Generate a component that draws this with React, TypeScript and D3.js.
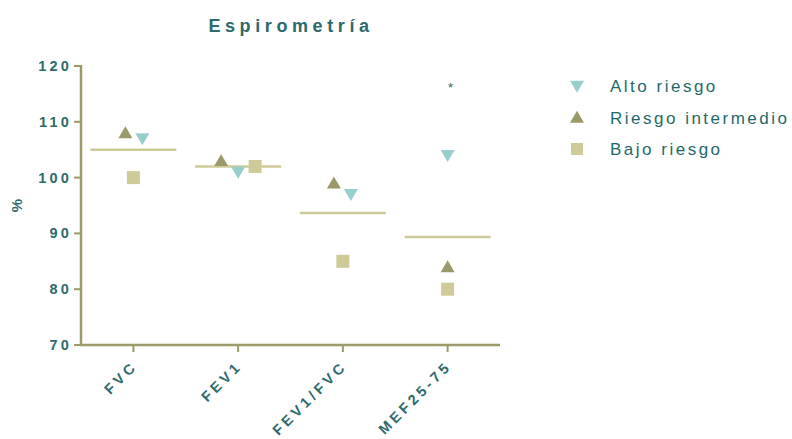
import React from "react";
import * as d3 from "d3";

const categories = ["FVC", "FEV1", "FEV1/FVC", "MEF25-75"];
const altoRiesgo = [107, 101, 97, 104];
const riesgoIntermedio = [108, 103, 99, 84];
const bajoRiesgo = [100, 102, 85, 80];
const yTicks = [70, 80, 90, 100, 110, 120];
const seriesNames = ["Alto riesgo", "Riesgo intermedio", "Bajo riesgo"];
const significance = [{ category: "MEF25-75", value: 116.8, label: "*" }];

const W = 792;
const H = 439;
const M = { left: 81, right: 292, top: 66, bottom: 94 };
const TEXT = "#2d6a6c";
const AXIS = "#9c9a69";
const C_ALTO = "#97cfcd";
const C_INT = "#9c9a69";
const C_BAJO = "#cfcb98";

// horizontal scatter offsets (px) so overlapping markers stay visible
const jitter: Record<string, [number, number, number]> = {
  FVC: [9, -8, 0],
  FEV1: [0, -17, 17],
  "FEV1/FVC": [8, -9, 0],
  "MEF25-75": [0, 0, 0],
};

const tri = (cx: number, cy: number, up: boolean, s = 7) =>
  up
    ? `M${cx},${cy - s * 0.95} L${cx + s},${cy + s * 0.75} L${cx - s},${cy + s * 0.75} Z`
    : `M${cx},${cy + s * 0.95} L${cx + s},${cy - s * 0.75} L${cx - s},${cy - s * 0.75} Z`;

export default function App() {
  const x = d3
    .scalePoint<string>()
    .domain(categories)
    .range([M.left, W - M.right])
    .padding(0.5);
  const y = d3.scaleLinear().domain([70, 120]).range([H - M.bottom, M.top]);
  const x0 = M.left;
  const y0 = H - M.bottom;
  const font = "Arial, 'Liberation Sans', sans-serif";

  return (
    <svg width={W} height={H} style={{ position: "absolute", left: 0, top: 0, background: "#fff" }}>
      <text x={291} y={32} textAnchor="middle" fontFamily={font} fontWeight="bold" fontSize={18} letterSpacing={4.6} fill={TEXT}>
        Espirometría
      </text>

      {/* y axis */}
      <line x1={x0} x2={x0} y1={y(120) - 1} y2={y0 + 1} stroke={AXIS} strokeWidth={2.5} />
      {yTicks.map((t) => (
        <g key={t}>
          <line x1={x0 - 7} x2={x0} y1={y(t)} y2={y(t)} stroke={AXIS} strokeWidth={2} />
          <text x={x0 - 9} y={y(t) + 5} textAnchor="end" fontFamily={font} fontWeight="bold" fontSize={14.5} letterSpacing={3.2} fill={TEXT}>
            {t}
          </text>
        </g>
      ))}
      <text transform={`translate(22,${y(95)}) rotate(-90)`} textAnchor="middle" fontFamily={font} fontWeight="bold" fontSize={15} fill={TEXT}>
        %
      </text>

      {/* x axis */}
      <line x1={x0 - 1} x2={W - M.right} y1={y0} y2={y0} stroke={AXIS} strokeWidth={2.5} />
      {categories.map((c) => (
        <g key={c}>
          <line x1={x(c)!} x2={x(c)!} y1={y0} y2={y0 + 7} stroke={AXIS} strokeWidth={2} />
          <text
            transform={`translate(${x(c)! + 5},${y0 + 22}) rotate(-45)`}
            textAnchor="end"
            fontFamily={font}
            fontWeight="bold"
            fontSize={14.5}
            letterSpacing={3.6}
            fill={TEXT}
          >
            {c}
          </text>
        </g>
      ))}

      {/* means */}
      {categories.map((c, i) => {
        const m = d3.mean([altoRiesgo[i], riesgoIntermedio[i], bajoRiesgo[i]])!;
        return (
          <line key={c} x1={x(c)! - 43} x2={x(c)! + 43} y1={y(m)} y2={y(m)} stroke={C_BAJO} strokeWidth={2.5} />
        );
      })}

      {/* points */}
      {categories.map((c, i) => {
        const [ja, ji, jb] = jitter[c];
        const cx = x(c)!;
        return (
          <g key={c}>
            <rect x={cx + jb - 6.5} y={y(bajoRiesgo[i]) - 6.5} width={13} height={13} fill={C_BAJO} />
            <path d={tri(cx + ji, y(riesgoIntermedio[i]), true)} fill={C_INT} />
            <path d={tri(cx + ja, y(altoRiesgo[i]), false)} fill={C_ALTO} />
          </g>
        );
      })}

      {significance.map((s) => (
        <text key={s.category} x={x(s.category)! + 3} y={y(s.value) + 8} textAnchor="middle" fontFamily={font} fontSize={13} fill={TEXT}>
          {s.label}
        </text>
      ))}

      {/* legend */}
      {seriesNames.map((n, i) => {
        const cy = 86 + i * 31.5;
        return (
          <g key={n}>
            {i === 0 && <path d={tri(577, cy, false)} fill={C_ALTO} />}
            {i === 1 && <path d={tri(577, cy, true)} fill={C_INT} />}
            {i === 2 && <rect x={571} y={cy - 6} width={12} height={12} fill={C_BAJO} />}
            <text x={610} y={cy + 6} fontFamily={font} fontSize={17} letterSpacing={2.5} fill="#1e6a6a">
              {n}
            </text>
          </g>
        );
      })}
    </svg>
  );
}
